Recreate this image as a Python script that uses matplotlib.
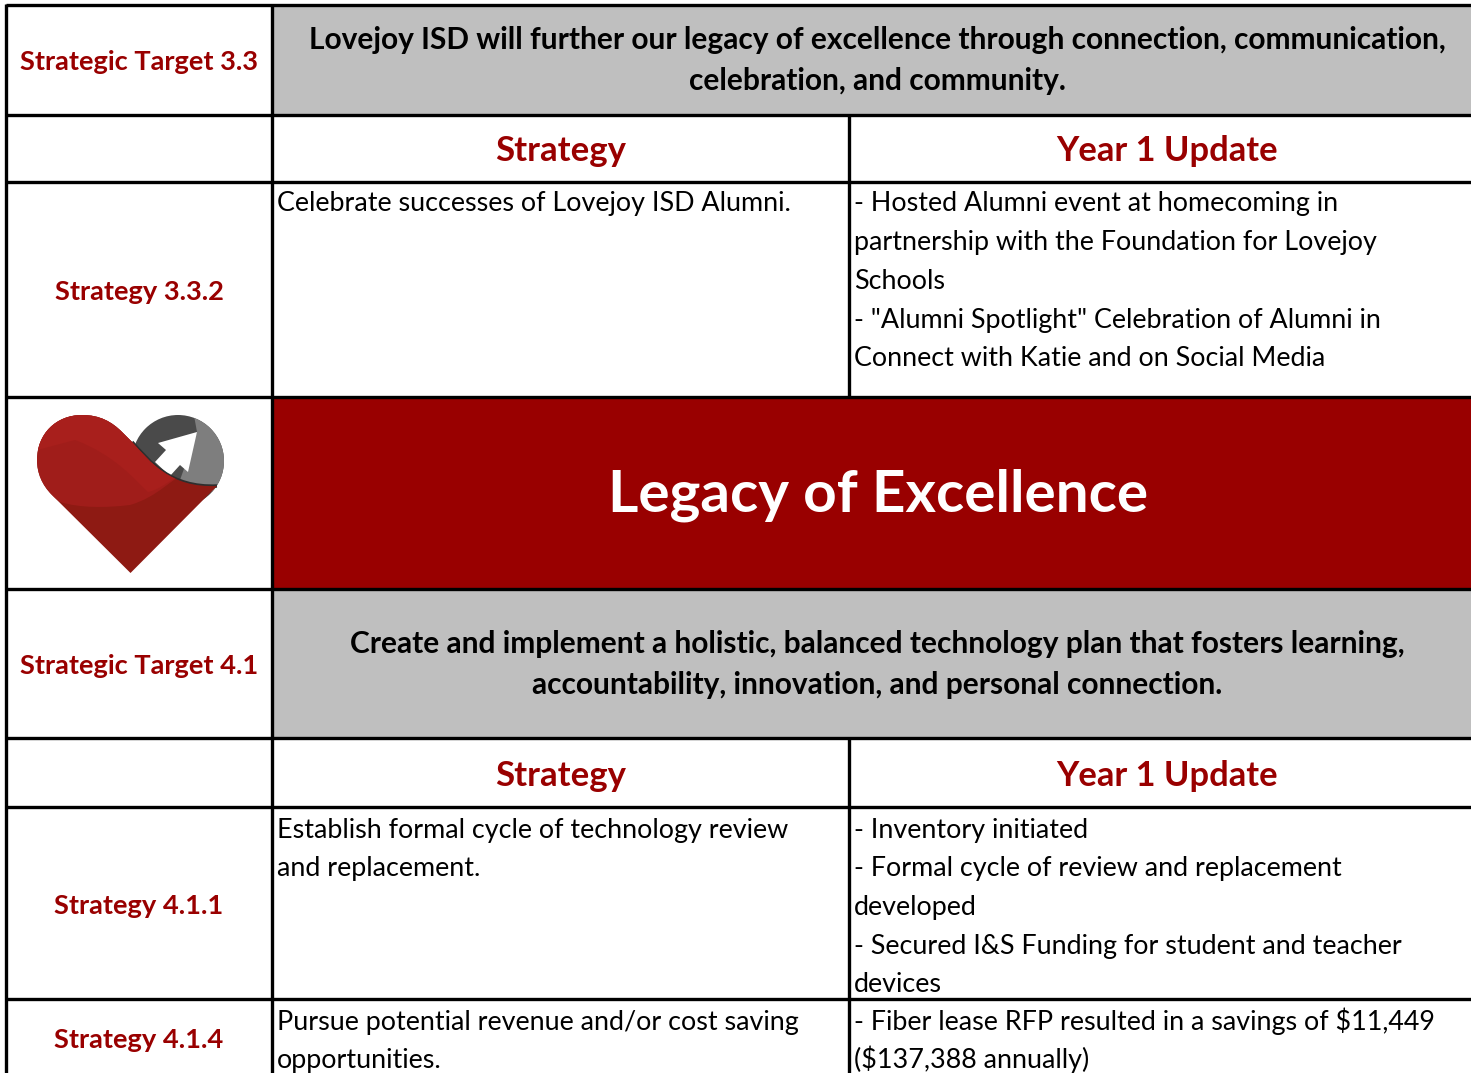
import matplotlib
matplotlib.use("Agg")
import matplotlib.pyplot as plt
from matplotlib.patches import Rectangle, Polygon, Circle, PathPatch
from matplotlib.path import Path

W, H = 1471, 1073
RED = "#990000"
GREY = "#BFBFBF"
FONT = ["Lato", "Open Sans", "DejaVu Sans"]

h_lines = [5, 115, 182, 397, 589, 738, 807, 999]

target_labels = [(70, "Strategic Target 3.3"), (674, "Strategic Target 4.1")]
target_lines = [(49, "Lovejoy ISD will further our legacy of excellence through connection, communication,"),
                (90, "celebration, and community."),
                (653, "Create and implement a holistic, balanced technology plan that fosters learning,"),
                (694, "accountability, innovation, and personal connection.")]
strategy_labels = [(300, "Strategy 3.3.2"), (914, "Strategy 4.1.1"), (1048, "Strategy 4.1.4")]
header_rows = [161, 786]
banner = "Legacy of Excellence"
left_lines = [(211, "Celebrate successes of Lovejoy ISD Alumni."),
              (838, "Establish formal cycle of technology review"),
              (876, "and replacement."),
              (1030, "Pursue potential revenue and/or cost saving"),
              (1068, "opportunities.")]
right_lines = [(211, "- Hosted Alumni event at homecoming in"),
               (250, "partnership with the Foundation for Lovejoy"),
               (289, "Schools"),
               (328, '- "Alumni Spotlight" Celebration of Alumni in'),
               (366, "Connect with Katie and on Social Media"),
               (838, "- Inventory initiated"),
               (876, "- Formal cycle of review and replacement"),
               (915, "developed"),
               (954, "- Secured I&S Funding for student and teacher"),
               (992, "devices"),
               (1030, "- Fiber lease RFP resulted in a savings of $11,449"),
               (1068, "($137,388 annually)")]

fig = plt.figure(figsize=(W/100, H/100), dpi=100)
ax = fig.add_axes([0, 0, 1, 1])
ax.set_xlim(0, W); ax.set_ylim(H, 0); ax.axis("off")

def fill(x0, y0, x1, y1, c):
    ax.add_patch(Rectangle((x0, y0), x1-x0, y1-y0, fc=c, ec="none", zorder=1))
fill(272, 5, W, 115, GREY)
fill(272, 397, W, 589, RED)
fill(272, 589, W, 738, GREY)

LW = 2.4
for y in h_lines:
    ax.plot([6, W], [y, y], color="black", lw=LW, zorder=6, solid_capstyle="butt")
ax.plot([6, 6], [4, H], color="black", lw=LW, zorder=6, solid_capstyle="butt")
ax.plot([272, 272], [4, H], color="black", lw=LW, zorder=6, solid_capstyle="butt")
for a, b in [(115, 397), (738, H)]:
    ax.plot([849, 849], [a, b], color="black", lw=LW, zorder=6, solid_capstyle="butt")

def t(x, y, s, size, color="black", weight="normal", ha="left"):
    ax.text(x, y, s, fontsize=size, color=color, fontweight=weight, ha=ha,
            va="baseline", family=FONT, zorder=7)

for y, s in target_labels + strategy_labels:
    t(139, y, s, 19.6, RED, "bold", "center")
for y, s in target_lines:
    t(877, y, s, 21.5, "black", "bold", "center")
for y in header_rows:
    t(561, y, "Strategy", 25, RED, "bold", "center")
    t(1167, y, "Year 1 Update", 24.8, RED, "bold", "center")
t(878, 512, banner, 42, "white", "bold", "center")
for y, s in left_lines:
    t(277, y, s, 19.4)
for y, s in right_lines:
    t(854, y, s, 19.4)

# heart logo
disc = Circle((178, 461), 46, fc="#4A4A4A", ec="none", zorder=2)
ax.add_patch(disc)
light = Polygon([(197, 432), (193, 410), (235, 420), (235, 500), (180, 480)], fc="#7E7E7E", ec="none", zorder=2.1)
ax.add_patch(light)
light.set_clip_path(disc)
ax.add_patch(Polygon([(197, 432), (158, 443), (166, 450), (155, 462), (170, 476), (180, 465), (188, 472)],
                     fc="white", ec="none", zorder=2.5))
C = Path.CURVE4
heart = PathPatch(Path([(130.5, 573), (52, 495), (42, 485), (37, 473), (37, 460),
                        (37, 434), (56, 415), (82, 415), (100, 415), (112, 422), (122, 432),
                        (132, 442), (150, 462), (170, 488), (217, 486), (130.5, 573)],
                       [Path.MOVETO, Path.LINETO, C, C, C, C, C, C, C, C, C,
                        Path.LINETO, C, C, C, Path.LINETO]),
                  fc="#8E1A13", ec="none", zorder=3)
ax.add_patch(heart)
rim = PathPatch(Path([(132, 442), (150, 462), (170, 488), (217, 486)], [Path.MOVETO, C, C, C]),
                fc="none", ec="#2E2E2E", lw=2.5, zorder=2.9)
ax.add_patch(rim)
mid = PathPatch(Path([(30, 400), (150, 400), (190, 470), (172, 478), (158, 497), (130, 505), (105, 508),
                      (80, 508), (60, 502), (30, 480), (30, 400)],
                     [Path.MOVETO, Path.LINETO, Path.LINETO, C, C, C, C, C, C, Path.LINETO, Path.LINETO]),
                fc="#A01D1A", ec="none", zorder=3.1)
ax.add_patch(mid)
mid.set_clip_path(heart)
top = PathPatch(Path([(30, 400), (150, 400), (190, 470), (172, 478), (160, 490), (148, 492), (135, 480),
                      (115, 455), (75, 440), (30, 452), (30, 400)],
                     [Path.MOVETO, Path.LINETO, Path.LINETO, C, C, C, C, C, C, Path.LINETO, Path.LINETO]),
                fc="#A81F1C", ec="none", zorder=3.2)
ax.add_patch(top)
top.set_clip_path(heart)

fig.savefig("out.png", dpi=100)
